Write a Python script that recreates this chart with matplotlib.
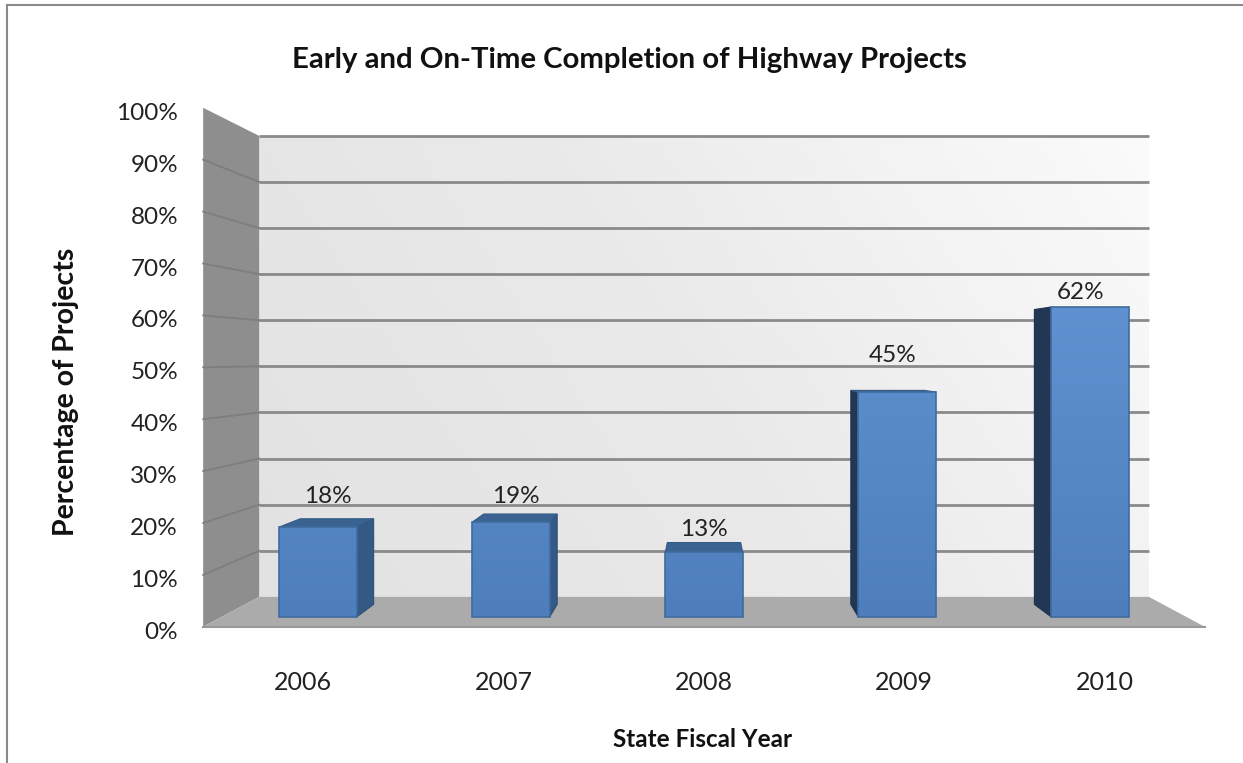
import numpy as np
import matplotlib
matplotlib.use('Agg')
import matplotlib.pyplot as plt
from matplotlib.patches import Polygon
from matplotlib.colors import LinearSegmentedColormap
from matplotlib.lines import Line2D

# ---------------- data ----------------
years = ['2006', '2007', '2008', '2009', '2010']
values = [18, 19, 13, 45, 62]
value_labels = ['18%', '19%', '13%', '45%', '62%']
y_ticks = [0, 10, 20, 30, 40, 50, 60, 70, 80, 90, 100]
y_tick_labels = ['0%', '10%', '20%', '30%', '40%', '50%', '60%', '70%', '80%', '90%', '100%']
title = 'Early and On-Time Completion of Highway Projects'
x_title = 'State Fiscal Year'
y_title = 'Percentage of Projects'

# ---------------- style ----------------
plt.rcParams['font.family'] = ['Liberation Sans Narrow', 'DejaVu Sans Condensed', 'Lato', 'DejaVu Sans']
TXT = '#222222'

W, H = 1243, 763
fig = plt.figure(figsize=(W / 100, H / 100), dpi=100)
ax = fig.add_axes([0, 0, 1, 1])
XLIM = (-1.6477, 4.7927)
YLIM = (-29.2, 123.4)
ax.set_xlim(*XLIM)
ax.set_ylim(*YLIM)
ax.axis('off')

# simple perspective: vanishing point, relative depth scales
VP = np.array([2.0, 51.6])
R_FRONT, R_BACK = 1.038, 0.922
R_BAR_BACK = 0.951
BAR_W = 0.4
X0, X1 = -0.5, len(years) - 0.5
YMAX = y_ticks[-1]


def proj(x, y, r):
    return (VP[0] + r * (x - VP[0]), VP[1] + r * (y - VP[1]))


# back wall with gradient
back = Polygon([proj(X0, 0, R_BACK), proj(X1, 0, R_BACK), proj(X1, YMAX, R_BACK), proj(X0, YMAX, R_BACK)],
               closed=True, facecolor='#e6e6e6', edgecolor='none', zorder=1)
ax.add_patch(back)
bx0, by0 = proj(X0, 0, R_BACK)
bx1, by1 = proj(X1, YMAX, R_BACK)
gx, gy = np.meshgrid(np.linspace(0, 1, 200), np.linspace(0, 1, 200))
wall_cmap = LinearSegmentedColormap.from_list('wall', ['#e2e2e2', '#eaeaea', '#fbfbfb'])
img = ax.imshow(0.75 * gx + 0.25 * gy, extent=[bx0, bx1, by0, by1], origin='lower',
                cmap=wall_cmap, aspect='auto', zorder=1.1, interpolation='bilinear')
img.set_clip_path(back)

# left wall
left = Polygon([proj(X0, 0, R_FRONT), proj(X0, YMAX, R_FRONT), proj(X0, YMAX, R_BACK), proj(X0, 0, R_BACK)],
               closed=True, facecolor='#8e8e8e', edgecolor='none', zorder=1.2)
ax.add_patch(left)

# floor
floor = Polygon([proj(X0, 0, R_FRONT), proj(X1, 0, R_FRONT), proj(X1, 0, R_BACK), proj(X0, 0, R_BACK)],
                closed=True, facecolor='#ababab', edgecolor='none', zorder=1.3)
ax.add_patch(floor)
fx0, fy0 = proj(X0, 0, R_FRONT)
fx1, _ = proj(X1, 0, R_FRONT)
ax.plot([fx0, fx1], [fy0, fy0], color='#999999', lw=1.5, zorder=1.35)

# gridlines
for t in y_ticks:
    xa, ya = proj(X0, t, R_BACK)
    xb, yb = proj(X1, t, R_BACK)
    if t > 0:
        ax.plot([xa, xb], [ya, yb], color='#8a8a8a', lw=2, zorder=1.4, solid_capstyle='butt')
    if 0 < t < YMAX:
        xf, yf = proj(X0, t, R_FRONT)
        ax.plot([xf, xa], [yf, ya], color='#7e7e7e', lw=1.3, zorder=1.4)

# bars: side and top faces
xs = np.arange(len(years))
for i, v in zip(xs, values):
    xl, xr = i - BAR_W / 2, i + BAR_W / 2
    if xr < VP[0]:
        ax.add_patch(Polygon([proj(xr, 0, 1), proj(xr, v, 1), proj(xr, v, R_BAR_BACK), proj(xr, 0, R_BAR_BACK)],
                             closed=True, facecolor='#355985', edgecolor='#2e4f78', lw=0.8, zorder=3))
    if xl > VP[0]:
        ax.add_patch(Polygon([proj(xl, 0, 1), proj(xl, v, 1), proj(xl, v, R_BAR_BACK), proj(xl, 0, R_BAR_BACK)],
                             closed=True, facecolor='#223754', edgecolor='#1e3150', lw=0.8, zorder=3))
    if v < VP[1]:
        ax.add_patch(Polygon([proj(xl, v, 1), proj(xr, v, 1), proj(xr, v, R_BAR_BACK), proj(xl, v, R_BAR_BACK)],
                             closed=True, facecolor='#3b6391', edgecolor='#345a86', lw=0.8, zorder=3.1))

# bars: front faces (gradient)
bars = ax.bar(xs, values, width=BAR_W, color='#4f81bd', edgecolor='none', zorder=4)
bar_cmap = LinearSegmentedColormap.from_list('bar', ['#4e7fbc', '#6a9cdc'])
grad = np.linspace(0, 1, 256).reshape(-1, 1)
for b in bars:
    im = ax.imshow(grad, extent=[XLIM[0], XLIM[1], 0, YMAX], origin='lower', cmap=bar_cmap,
                   aspect='auto', zorder=4.1, interpolation='bilinear')
    im.set_clip_path(b)
ax.bar(xs, values, width=BAR_W, color='none', edgecolor='#3f6b9e', linewidth=1.2, zorder=4.2)
ax.set_xlim(*XLIM)
ax.set_ylim(*YLIM)

# value labels
label_dy = [4.8, 3.8, 3.2, 6.0, 1.6]
for i, v, lab, dy in zip(xs, values, value_labels, label_dy):
    cx = (proj(i, v, 1)[0] + proj(i, v, R_BAR_BACK)[0]) / 2
    ax.text(cx, v + dy, lab, ha='center', va='baseline', fontsize=17.5, color=TXT, zorder=6)

# y tick labels on front edge of the left wall
for t, lab in zip(y_ticks, y_tick_labels):
    xf, yf = proj(X0, t, R_FRONT)
    ax.text(xf - 0.13, yf - 2.4, lab, ha='right', va='baseline', fontsize=17.5, color=TXT)

# x tick labels on front edge of the floor
for i, lab in zip(xs, years):
    xf, _ = proj(i, 0, R_FRONT)
    ax.text(xf, -14.6, lab, ha='center', va='baseline', fontsize=18, color=TXT)

# titles
fig.text(629 / W, 1 - 68 / H, title, ha='center', va='baseline', fontsize=21.2,
         fontweight='bold', color='#111111')
fig.text(703 / W, 1 - 747 / H, x_title, ha='center', va='baseline', fontsize=17.5,
         fontweight='bold', color='#111111')
fig.text(66 / W, 1 - 392 / H, y_title, ha='center', va='center', rotation=90, fontsize=20.5,
         fontweight='bold', color='#111111')

# chart border (left and top edges visible)
fig.add_artist(Line2D([7 / W, 7 / W], [0, 1 - 5 / H], transform=fig.transFigure, color='#8a8a8a', lw=1.5))
fig.add_artist(Line2D([7 / W, 1], [1 - 5 / H, 1 - 5 / H], transform=fig.transFigure, color='#8a8a8a', lw=1.5))

fig.savefig('out.png', dpi=100)
